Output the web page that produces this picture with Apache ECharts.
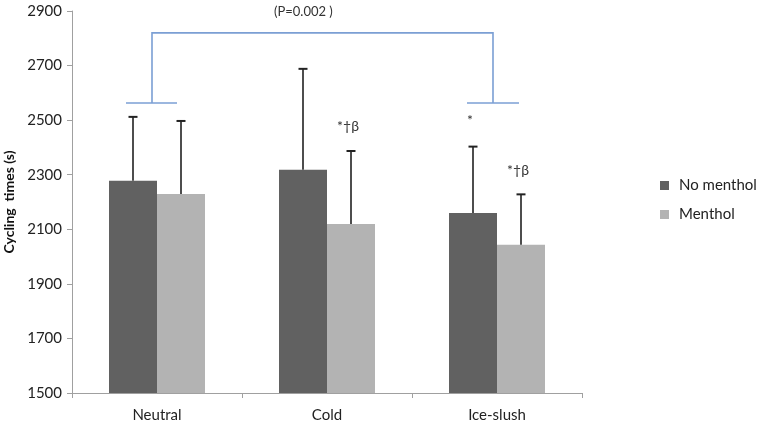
<!DOCTYPE html>
<html>
<head>
<meta charset="utf-8">
<script src="https://cdn.jsdelivr.net/npm/echarts@6/dist/echarts.min.js"></script>
<style>html,body{margin:0;padding:0;background:#fff}#c{width:759px;height:428px}</style>
</head>
<body>
<div id="c"></div>
<script>
var categories = ['Neutral', 'Cold', 'Ice-slush'];
var seriesNames = ['No menthol', 'Menthol'];
var noMenthol = [2278, 2318, 2160];
var menthol = [2229, 2119, 2043];
var noMentholErrTop = [2512, 2688, 2403];
var mentholErrTop = [2497, 2387, 2228];
var noMentholMarks = ['', '', '*'];
var mentholMarks = ['', '*\u2020\u03b2', '*\u2020\u03b2'];
var bracketLow = 2563, bracketHigh = 2820;
var bracketFrom = 0, bracketTo = 2;
var yTicks = [1500, 1700, 1900, 2100, 2300, 2500, 2700, 2900];

var FONT = 'Lato';
var BAR_W = 48;
var chart = echarts.init(document.getElementById('c'));

function errSeries(means, tops, marks, side) {
  var data = means.map(function (m, i) { return [i, m, tops[i]]; });
  return {
    type: 'custom',
    z: 5,
    silent: true,
    data: data,
    encode: { x: 0, y: [1, 2] },
    renderItem: function (params, api) {
      var idx = api.value(0);
      var pMean = api.coord([idx, api.value(1)]);
      var pTop = api.coord([idx, api.value(2)]);
      var x = pMean[0] + side * BAR_W / 2;
      var mark = marks[params.dataIndex];
      var children = [
        { type: 'line', shape: { x1: x, y1: pMean[1], x2: x, y2: pTop[1] }, style: { stroke: '#4d4d4d', lineWidth: 2 } },
        { type: 'line', shape: { x1: x - 4.5, y1: pTop[1], x2: x + 4.5, y2: pTop[1] }, style: { stroke: '#222', lineWidth: 2 } }
      ];
      if (mark) {
        children.push({ type: 'text', x: x - 3, y: pTop[1] - (mark.length > 1 ? 24 : 26), style: { text: mark, fill: '#333', font: '14px ' + FONT, align: 'center', verticalAlign: 'middle' } });
      }
      return { type: 'group', children: children };
    }
  };
}

var option = {
  animation: false,
  backgroundColor: '#fff',
  textStyle: { fontFamily: FONT },
  grid: { left: 72, right: 177, top: 11, bottom: 35, containLabel: false, outerBoundsMode: 'none' },
  legend: {
    orient: 'vertical', left: 655, top: 173,
    itemWidth: 9, itemHeight: 9, itemGap: 14,
    icon: 'rect',
    data: seriesNames,
    textStyle: { fontFamily: FONT, fontSize: 15, color: '#222', padding: [0, 0, 0, 5] }
  },
  graphic: [
    { type: 'text', left: 274, top: 5, style: { text: '(P=0.002 )', font: '13px ' + FONT, fill: '#333' } }
  ],
  xAxis: {
    type: 'category', data: categories,
    axisLine: { lineStyle: { color: '#a0a0a0', width: 1 } },
    axisTick: { show: true, length: 5, lineStyle: { color: '#a0a0a0' } },
    axisLabel: { color: '#222', fontSize: 15, margin: 15, fontFamily: FONT }
  },
  yAxis: {
    type: 'value', min: 1500, max: 2900, interval: 200,
    name: 'Cycling  times (s)', nameLocation: 'middle', nameGap: 56,
    nameTextStyle: { fontWeight: 'bold', fontSize: 14, color: '#111', fontFamily: FONT },
    axisLine: { show: true, lineStyle: { color: '#a0a0a0', width: 1 } },
    axisTick: { show: true, length: 5, lineStyle: { color: '#a0a0a0' } },
    splitLine: { show: false },
    axisLabel: { color: '#222', fontSize: 15, margin: 10, fontFamily: FONT,
      formatter: function (v) { return yTicks.indexOf(v) >= 0 ? String(v) : ''; } }
  },
  series: [
    { name: seriesNames[0], type: 'bar', data: noMenthol, barWidth: BAR_W, barGap: '0%', itemStyle: { color: '#616161' } },
    { name: seriesNames[1], type: 'bar', data: menthol, barWidth: BAR_W, barGap: '0%', itemStyle: { color: '#b3b3b3' } },
    errSeries(noMenthol, noMentholErrTop, noMentholMarks, -1),
    errSeries(menthol, mentholErrTop, mentholMarks, 1),
    {
      type: 'custom', silent: true, z: 6,
      data: [[bracketFrom, bracketTo, bracketLow, bracketHigh]],
      encode: { x: [0, 1], y: [2, 3] },
      renderItem: function (params, api) {
        var a = api.coord([api.value(0), api.value(2)]);
        var b = api.coord([api.value(1), api.value(3)]);
        var xl = a[0] - 5, xr = b[0] - 4, yl = a[1], yh = b[1];
        var st = { stroke: '#7b9fd4', lineWidth: 1.6, fill: null };
        return { type: 'group', children: [
          { type: 'polyline', shape: { points: [[xl, yl], [xl, yh], [xr, yh], [xr, yl]] }, style: st },
          { type: 'line', shape: { x1: xl - 26, y1: yl, x2: xl + 25, y2: yl }, style: st },
          { type: 'line', shape: { x1: xr - 26, y1: yl, x2: xr + 26, y2: yl }, style: st }
        ] };
      }
    }
  ]
};
chart.setOption(option);
</script>
</body>
</html>
